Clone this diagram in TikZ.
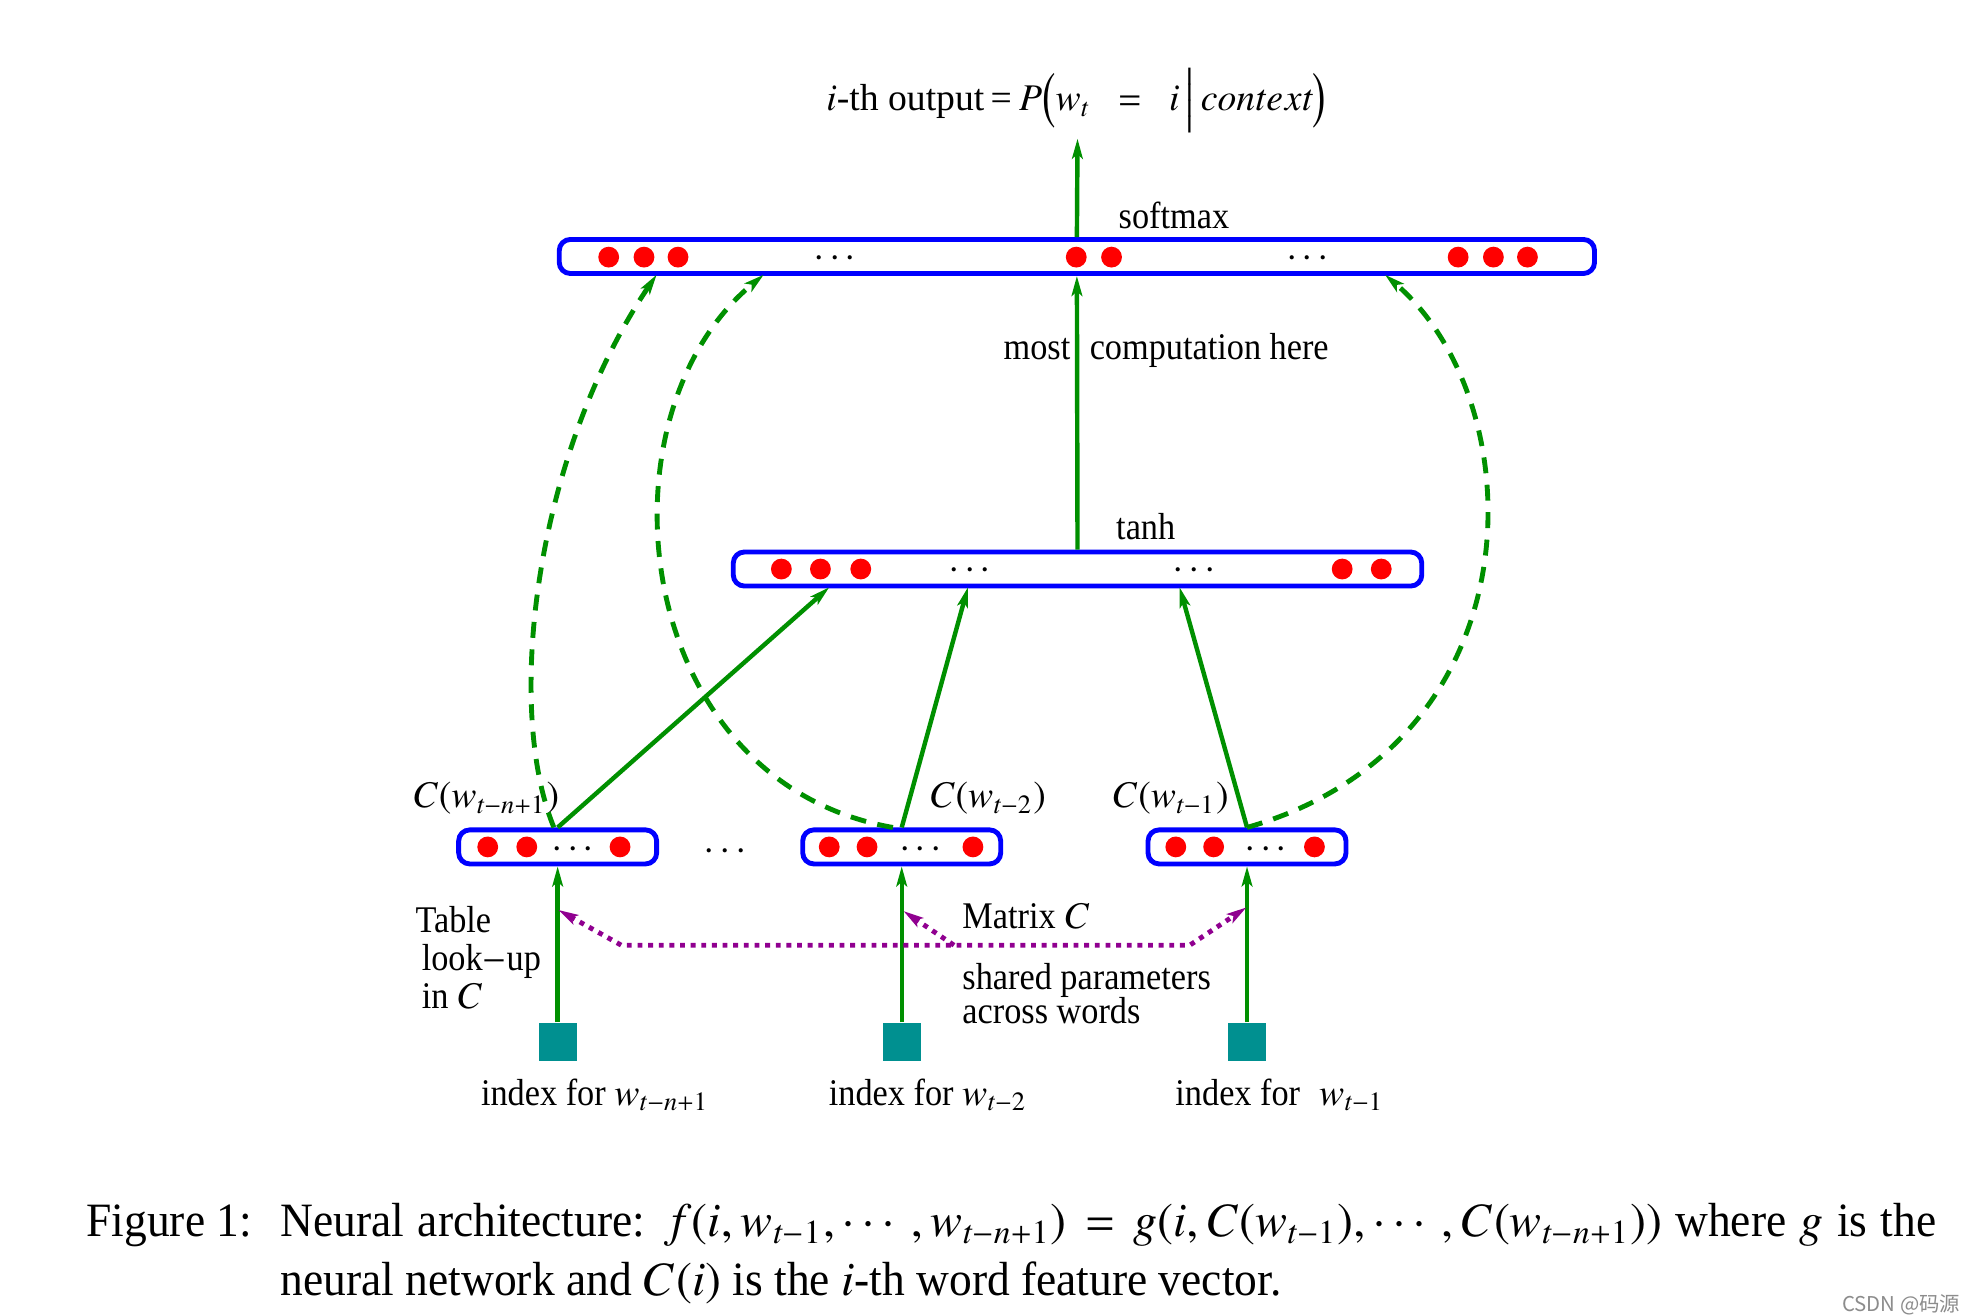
\documentclass[tikz,border=0pt]{standalone}
\usepackage{amsmath}
\usepackage{txfonts}
\usepackage{fontspec}
\setmainfont{Liberation Serif}
\newfontfamily\diagfont[FakeStretch=0.91]{Liberation Serif}
\newfontfamily\capfont[FakeStretch=0.95]{Liberation Serif}
\newfontfamily\cjkfont{Noto Sans CJK SC}
\usetikzlibrary{arrows.meta,positioning,calc}
\definecolor{netgreen}{RGB}{0,144,0}
\definecolor{netteal}{RGB}{0,144,144}
\definecolor{netpurple}{RGB}{144,0,144}
\tikzset{
  vecbar/.style={draw=blue,line width=1.1pt,rounded corners=2.5pt,minimum height=0.27cm,inner sep=0pt},
  neuron/.style={circle,fill=red,minimum size=0.165cm,inner sep=0pt},
  wordbox/.style={fill=netteal,minimum size=0.3cm,inner sep=0pt},
  feed/.style={->,draw=netgreen,line width=1pt},
  skipline/.style={->,draw=netgreen,line width=1.1pt,dash pattern=on 3.6pt off 2.6pt},
  sharearrow/.style={->,draw=netpurple,line width=1.1pt,dash pattern=on 1.1pt off 1.3pt},
  lbl/.style={font=\diagfont\fontsize{8.5}{10}\selectfont,inner sep=0pt},
}

\begin{document}
\begin{tikzpicture}[x=0.01cm,y=-0.01cm,>={Stealth[length=4.5pt,width=2.4pt,inset=1pt]}]
\fill[white] (0,0) rectangle (1560,1044);
\useasboundingbox (0,0) rectangle (1560,1044);

% layers
\node[vecbar,minimum width=8.21cm] (soft) at (854.5,203.5) {};
\node[vecbar,minimum width=5.46cm] (tanh) at (855,451.5) {};
\node[vecbar,minimum width=1.57cm] (cl) at (442.5,672) {};
\node[vecbar,minimum width=1.57cm] (cm) at (715.5,672) {};
\node[vecbar,minimum width=1.57cm] (cr) at (989.5,672) {};

% units
\foreach \x [count=\i] in {483,511,538,854,882,1157,1185,1212}
  \node[neuron] (s\i) at (\x,204) {};
\foreach \x [count=\i] in {620,651,683,1065,1096}
  \node[neuron] (h\i) at (\x,451.5) {};
\foreach \x [count=\i] in {387,418,492}
  \node[neuron] (cl\i) at (\x,672) {};
\foreach \x [count=\i] in {658,688,772}
  \node[neuron] (cm\i) at (\x,672) {};
\foreach \x [count=\i] in {933,963,1043}
  \node[neuron] (cr\i) at (\x,672) {};

% dots
\node[lbl,anchor=base] (sd1) at (665,212) {$\cdots$};
\node[lbl,anchor=base] (sd2) at (1040,212) {$\cdots$};
\node[lbl,anchor=base] (hd1) at (772,460) {$\cdots$};
\node[lbl,anchor=base] (hd2) at (950,460) {$\cdots$};
\node[lbl,anchor=base] (cld) at (457,681) {$\cdots$};
\node[lbl,anchor=base] (cmd) at (733,681) {$\cdots$};
\node[lbl,anchor=base] (crd) at (1007,681) {$\cdots$};
\node[lbl,anchor=base] (gap) at (578,683) {$\cdots$};

% word indices
\node[wordbox] (wl) at (442.5,827) {};
\node[wordbox] (wm) at (715.5,827) {};
\node[wordbox] (wr) at (989.5,827) {};

% labels
\node[lbl,font=\rmfamily\fontsize{8.5}{10}\selectfont,anchor=base west] (outlbl) at (655,88)
  {$i$-th output\,=\,$P\Bigl(w_t\;\,=\;\,i\,\Big|\,context\Bigr)$};
\node[lbl,anchor=base west] (smx) at (887,181) {softmax};
\node[lbl,anchor=base east] (most) at (850,285) {most};
\node[lbl,anchor=base west] (comp) at (864,285) {computation here};
\node[lbl,anchor=base west] (tnh) at (885,428) {tanh};
\node[lbl,anchor=base west] (cwl) at (327,641) {$C(w_{t-n+1})$};
\node[lbl,anchor=base west] (cwm) at (737,641) {$C(w_{t-2})$};
\node[lbl,anchor=base west] (cwr) at (882,641) {$C(w_{t-1})$};
\node[lbl,anchor=base west] (tab1) at (329,740) {Table};
\node[lbl,anchor=base west] (tab2) at (334,770) {look$-$up};
\node[lbl,anchor=base west] (tab3) at (334,800) {in $C$};
\node[lbl,anchor=base west] (mat) at (763,737) {Matrix $C$};
\node[lbl,anchor=base west] (sh1) at (763,785) {shared parameters};
\node[lbl,anchor=base west] (sh2) at (763,812) {across words};
\node[lbl,anchor=base west] (idl) at (381,877) {index for $w_{t-n+1}$};
\node[lbl,anchor=base west] (idm) at (657,877) {index for $w_{t-2}$};
\node[lbl,anchor=base west] (idr) at (932,877) {index for\; $w_{t-1}$};

% connectors
\coordinate (outtip) at (855,110);
\coordinate (t1) at (658,466);
\coordinate (t2) at (768,466);
\coordinate (t3) at (936,466);
\coordinate (k1) at (521,218);
\coordinate (k2) at (606,218);
\coordinate (k3) at (1099,218);
\draw[feed] (soft.north) -- (outtip);
\draw[feed] (tanh.north) -- (soft.south);
\draw[feed] (cl.north) -- (t1);
\draw[feed] (cm.north) -- (t2);
\draw[feed] (cr.north) -- (t3);
\draw[skipline] ($(cl.north)+(-3,0)$) .. controls (400,560) and (425,360) .. (k1);
\draw[skipline] ($(cm.north)+(-7,0)$) .. controls (500,620) and (470,330) .. (k2);
\draw[skipline] (cr.north) .. controls (1222,590) and (1218,320) .. (k3);
\draw[feed] (wl.north) -- (cl.south);
\draw[feed] (wm.north) -- (cm.south);
\draw[feed] (wr.north) -- (cr.south);

% shared parameters
\coordinate (pl) at (443,722);
\coordinate (pa) at (493,750);
\coordinate (pb) at (944,750);
\coordinate (pr) at (989,720);
\coordinate (pm0) at (757,750);
\coordinate (pm) at (717,723);
\draw[sharearrow,<->] (pl) -- (pa) -- (pb) -- (pr);
\draw[sharearrow] (pm0) -- (pm);

% caption
\node[anchor=base west,inner sep=0pt,font=\capfont\fontsize{10.8}{13.4}\selectfont] (cap) at (68,981)
  {\begin{tabular}[t]{@{}p{1.54cm}@{}p{13.13cm}@{}}
   Figure 1: & Neural architecture: $f(i,w_{t-1},\cdots,w_{t-n+1})=g(i,C(w_{t-1}),\cdots,C(w_{t-n+1}))$ where $g$ is the\linebreak
   neural network and $C(i)$ is the $i$-th word feature vector.
   \end{tabular}};
\node[anchor=east,inner sep=0pt,text=black!45,font=\cjkfont\fontsize{4.6}{5}\selectfont] (mark) at (1556,1035) {CSDN @码源};
\end{tikzpicture}
\end{document}
